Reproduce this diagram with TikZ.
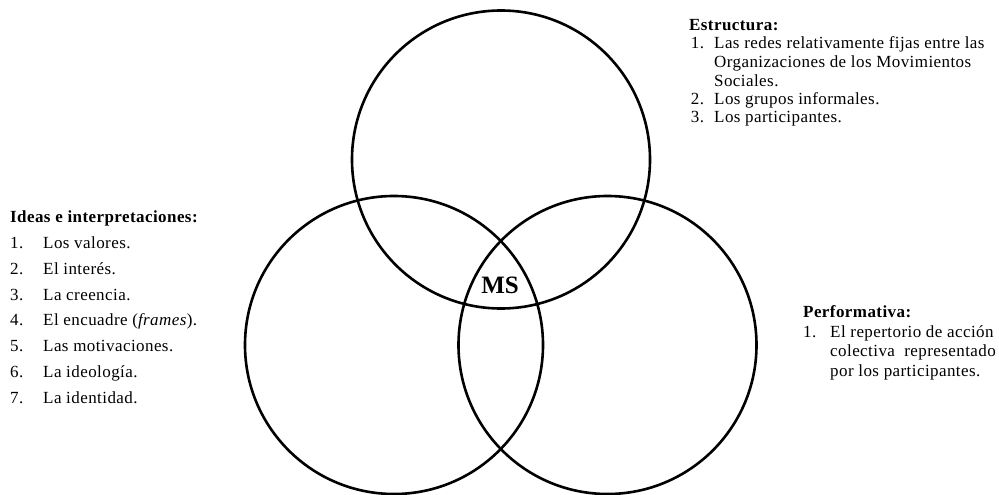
\documentclass[tikz,border=0pt]{standalone}
\usepackage{fontspec}
\setmainfont{Liberation Serif}[LetterSpace=2.5]
\newfontfamily\msfont{Liberation Serif}
\begin{document}
\begin{tikzpicture}[x=1pt,y=-1pt,
  ring/.style={draw=black,line width=2.6pt},
  ttl/.style={inner sep=0pt,anchor=base west,font=\fontsize{17}{20}\selectfont\bfseries},
  lst/.style={inner sep=0pt,anchor=base west},
  ms/.style={inner sep=0pt,font=\msfont\fontsize{25}{30}\selectfont\bfseries}]
\useasboundingbox (0,0) rectangle (999,495);
\coordinate (ctop) at (501,159.5);
\coordinate (cleft) at (394,345);
\coordinate (cright) at (607.5,345);
\draw[ring] (ctop) circle (149pt);
\draw[ring] (cleft) circle (149pt);
\draw[ring] (cright) circle (149pt);
\node[ms] (msl) at (500,285) {MS};
% Ideas
\node[ttl] (ideast) at (10,222) {Ideas e interpretaciones:};
\node[lst] (ideasl) at (10,248.5) {\fontsize{17}{25.8}\selectfont
\begin{tabular}[t]{@{}p{33pt}@{}l@{}}
1. & Los valores.\\
2. & El interés.\\
3. & La creencia.\\
4. & El encuadre (\textit{frames}).\\
5. & Las motivaciones.\\
6. & La ideología.\\
7. & La identidad.
\end{tabular}};
% Estructura
\node[ttl] (estt) at (689,30.7) {Estructura:};
\node[lst] (estl) at (690.7,49) {\fontsize{17}{18.5}\selectfont
\begin{tabular}[t]{@{}p{23.3pt}@{}l@{}}
1. & Las redes relativamente fijas entre las\\
   & Organizaciones de los Movimientos\\
   & Sociales.\\
2. & Los grupos informales.\\
3. & Los participantes.
\end{tabular}};
% Performativa
\node[ttl] (perft) at (803,317) {Performativa:};
\node[lst] (perfl) at (803,337) {\fontsize{17}{19.5}\selectfont
\begin{tabular}[t]{@{}p{27pt}@{}l@{}}
1. & El repertorio de acción\\
   & colectiva\ \ representado\\
   & por los participantes.
\end{tabular}};
\end{tikzpicture}
\end{document}
